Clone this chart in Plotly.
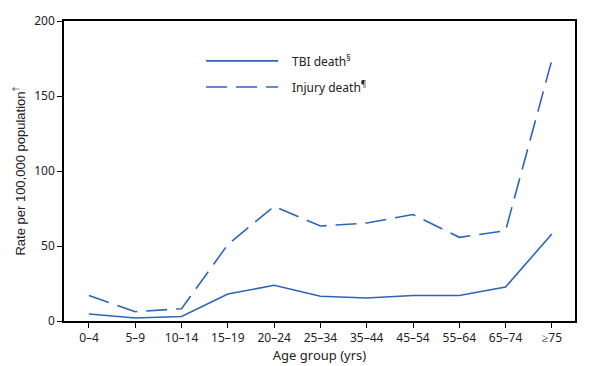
import plotly.graph_objects as go

age_groups = ["0–4", "5–9", "10–14", "15–19", "20–24", "25–34", "35–44", "45–54", "55–64", "65–74", "≥75"]
tbi_death = [4.7, 2.0, 3.0, 18.0, 23.8, 16.5, 15.3, 17.0, 17.0, 22.7, 58.0]
injury_death = [17.0, 6.2, 8.2, 51.0, 76.4, 63.3, 65.3, 71.0, 55.8, 60.2, 174.0]
y_ticks = [0, 50, 100, 150, 200]

color = "#2f65b9"
font = "Noto Sans"

fig = go.Figure()
fig.add_trace(go.Scatter(x=age_groups, y=tbi_death, mode="lines", name="TBI death",
                         line=dict(color=color, width=1.6), showlegend=False))
fig.add_trace(go.Scatter(x=age_groups, y=injury_death, mode="lines", name="Injury death",
                         line=dict(color=color, width=1.6, dash="21px,9px"), showlegend=False))

# manual legend
legend_items = [("TBI death<sup>§</sup>", "solid", 0.867), ("Injury death<sup>¶</sup>", "21px,9px", 0.78)]
for label, dash, yy in legend_items:
    fig.add_shape(type="line", xref="paper", yref="paper", x0=0.278, x1=0.419, y0=yy, y1=yy,
                  line=dict(color=color, width=1.6, dash=dash))
    fig.add_annotation(xref="paper", yref="paper", x=0.443, y=yy, text=label, showarrow=False,
                       xanchor="left", yanchor="middle", font=dict(family=font, size=12, color="#222"))

fig.update_layout(
    width=588, height=358,
    margin=dict(l=56, r=21, t=13, b=45),
    plot_bgcolor="white", paper_bgcolor="white",
    font=dict(family=font, size=12, color="#222"),
    xaxis=dict(type="category", range=[-0.54, 10.5], showline=True, linecolor="black", linewidth=1.5,
               mirror=True, ticks="outside", ticklen=5, tickcolor="black", showgrid=False,
               automargin=False,
               title=dict(text="Age group (yrs)", standoff=4, font=dict(size=13))),
    yaxis=dict(range=[0, 200], tickvals=y_ticks, showline=True, linecolor="black", linewidth=1.5,
               mirror=True, ticks="outside", ticklen=5, tickcolor="black", showgrid=False, zeroline=False,
               automargin=False,
               title=dict(text="Rate per 100,000 population<sup>†</sup>", standoff=6,
                          font=dict(family="Liberation Sans", size=13))),
)

fig.write_html("out.html")
